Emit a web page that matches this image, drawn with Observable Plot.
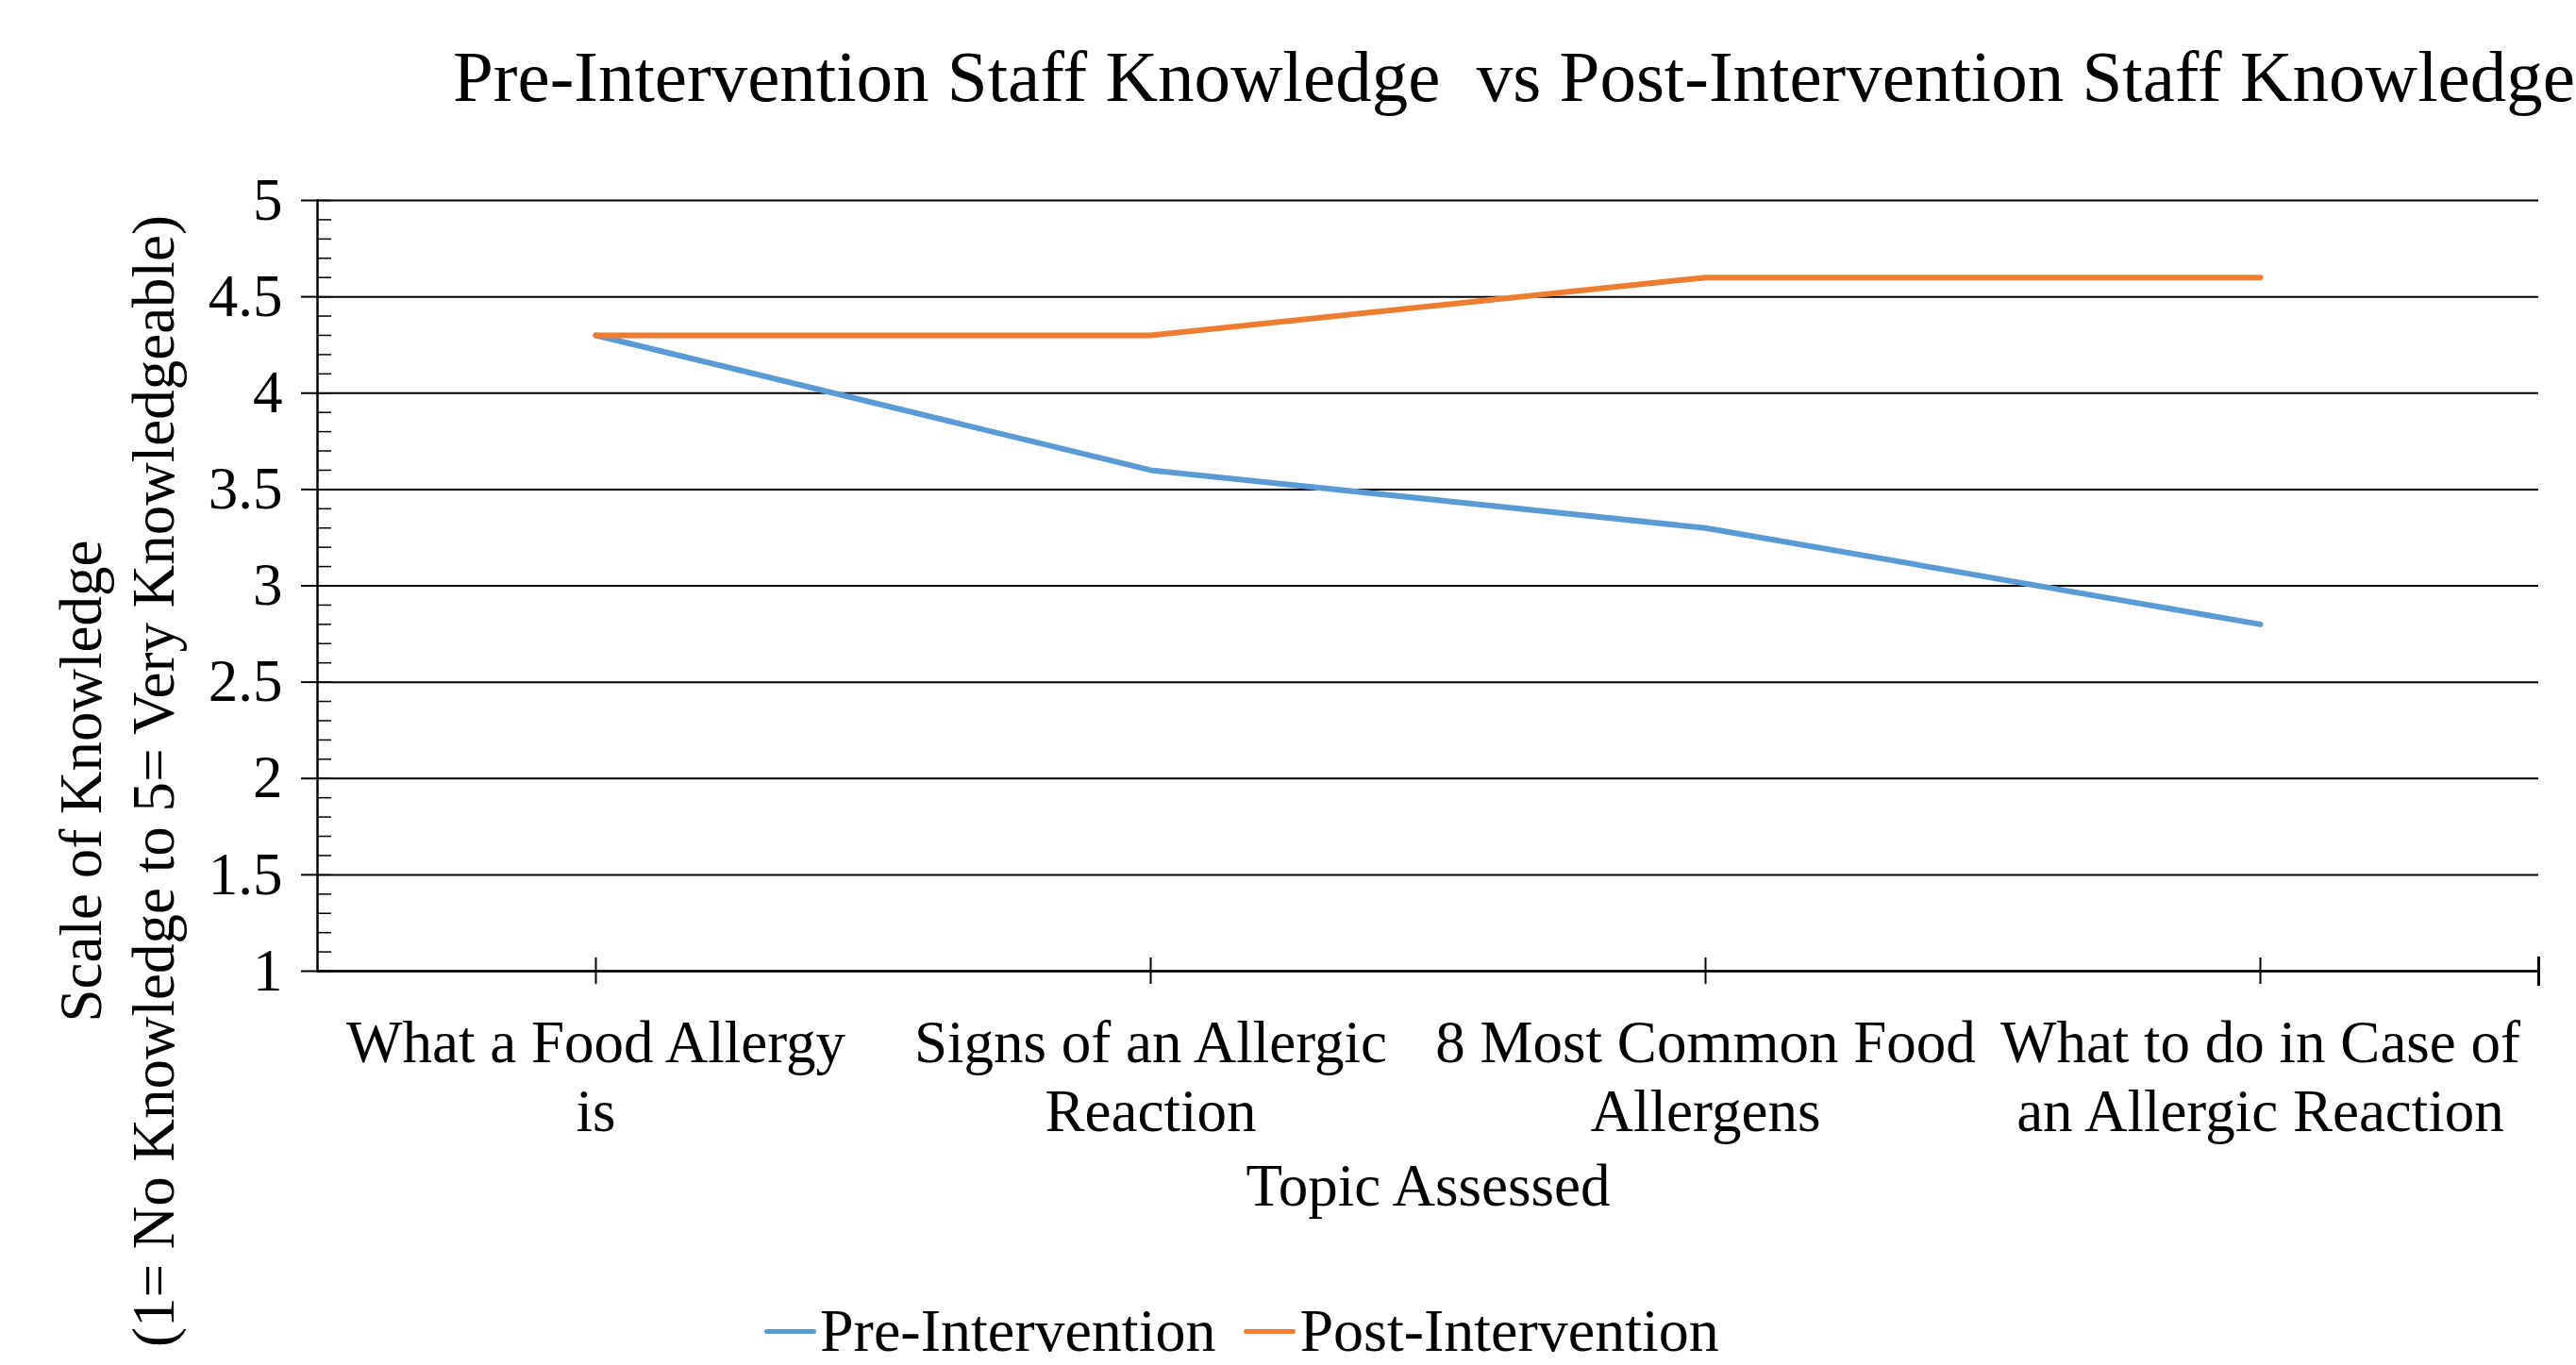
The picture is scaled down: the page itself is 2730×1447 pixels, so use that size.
<!DOCTYPE html>
<html>
<head>
<meta charset="utf-8">
<script src="https://cdn.jsdelivr.net/npm/d3@7"></script>
<script src="https://cdn.jsdelivr.net/npm/@observablehq/plot@0.6"></script>
<style>
  html, body { margin: 0; padding: 0; background: #fff; }
  #wrap { position: relative; width: 2730px; height: 1447px; overflow: hidden; font-family: "Liberation Serif", "Times New Roman", serif; color: #000; }
  #chart { position: absolute; left: 0; top: 0; }
  #title { position: absolute; left: 480px; top: 43px; font-size: 77px; line-height: 1; white-space: pre; }
  #legend { position: absolute; left: 810px; top: 1383px; display: flex; align-items: center; font-size: 64px; line-height: 56px; white-space: pre; }
  .item { display: flex; align-items: center; margin-right: 30px; }
  .sw { width: 55px; height: 5px; border-radius: 3px; margin-right: 4px; }
</style>
</head>
<body>
<div id="wrap">
  <div id="chart"></div>
  <div id="title"></div>
  <div id="legend"></div>
</div>
<script>
const titleText = "Pre-Intervention Staff Knowledge  vs Post-Intervention Staff Knowledge";
const categories = ["What a Food Allergy is", "Signs of an Allergic Reaction", "8 Most Common Food Allergens", "What to do in Case of an Allergic Reaction"];
const tickLabels = ["What a Food Allergy\nis", "Signs of an Allergic\nReaction", "8 Most Common Food\nAllergens", "What to do in Case of\nan Allergic Reaction"];
const preValues = [4.3, 3.6, 3.3, 2.8];
const postValues = [4.3, 4.3, 4.6, 4.6];
const seriesNames = ["Pre-Intervention", "Post-Intervention"];
const seriesColors = ["#5B9BD5", "#ED7D31"];
const yTicks = [1, 1.5, 2, 2.5, 3, 3.5, 4, 4.5, 5];
const yMinorTicks = d3.range(10, 51).map(v => v / 10);
const xTitle = "Topic Assessed";
const yTitle = "Scale of Knowledge\n(1= No Knowledge to 5= Very Knowledgeable)";

const rows = [];
[preValues, postValues].forEach((vals, s) => {
  vals.forEach((v, i) => rows.push({series: seriesNames[s], topic: categories[i], value: v}));
});

const chart = Plot.plot({
  width: 2730,
  height: 1447,
  marginTop: 212,
  marginBottom: 418,
  marginLeft: 336,
  marginRight: 40,
  style: {fontFamily: "Liberation Serif, Times New Roman, serif", fontSize: "63px", color: "#000", background: "transparent"},
  x: {type: "point", domain: categories, padding: 0.5},
  y: {domain: [1, 5]},
  color: {domain: seriesNames, range: seriesColors},
  marks: [
    Plot.gridY(yTicks, {stroke: "#000", strokeOpacity: 1, strokeWidth: 2}),
    Plot.axisY(yTicks, {tickSize: 17, tickPadding: 20, strokeWidth: 2, label: null, fontSize: 63, tickFormat: d => String(d)}),
    Plot.axisY(yMinorTicks, {tickSize: -15, tickFormat: () => "", strokeWidth: 1.5, label: null}),
    Plot.frame({anchor: "left", strokeWidth: 2.5}),
    Plot.ruleY([1], {strokeWidth: 2.5}),
    Plot.axisX({tickSize: 14, tickPadding: 31, strokeWidth: 2, label: null, lineHeight: 1.16, fontSize: 63,
      tickFormat: d => tickLabels[categories.indexOf(d)]}),
    Plot.axisX({tickSize: -14, tickFormat: () => "", strokeWidth: 2, label: null}),
    Plot.frame({anchor: "right", insetTop: 803, insetBottom: -14, strokeWidth: 3}),
    Plot.line(rows, {x: "topic", y: "value", z: "series", stroke: "series", strokeWidth: 6, strokeLinecap: "round", strokeLinejoin: "round"}),
    Plot.text([xTitle], {text: d => d, frameAnchor: "bottom", dy: 248, fontSize: 63}),
    Plot.text([yTitle], {text: d => d, frameAnchor: "left", textAnchor: "middle", rotate: -90, dx: -216, dy: 207, lineHeight: 1.22, fontSize: 63})
  ]
});
document.getElementById("chart").appendChild(chart);

document.getElementById("title").textContent = titleText;
const legend = document.getElementById("legend");
seriesNames.forEach((name, i) => {
  const item = document.createElement("div");
  item.className = "item";
  const sw = document.createElement("span");
  sw.className = "sw";
  sw.style.background = seriesColors[i];
  const t = document.createElement("span");
  t.textContent = name;
  item.appendChild(sw);
  item.appendChild(t);
  legend.appendChild(item);
});
</script>
</body>
</html>
